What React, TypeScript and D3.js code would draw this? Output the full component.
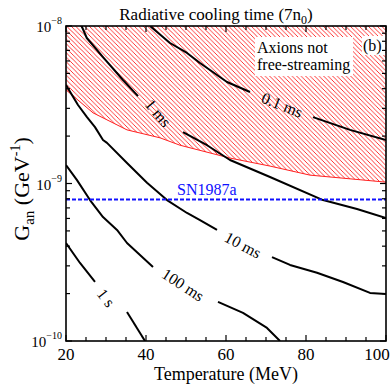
import React from 'react';
import * as d3 from 'd3';

const W = 391;
const H = 385;
const FRAME = { left: 66, right: 386, top: 26, bottom: 341 };
const FONT = "'Liberation Serif', 'Times New Roman', serif";

type P = [number, number]; // [Temperature (MeV), G_an (GeV^-1)]

const xDomain: [number, number] = [20, 100];
const yDomain: [number, number] = [1e-10, 1e-8];
const xTickLabels = [20, 40, 60, 80, 100];
const yMajorTicks = [1e-10, 1e-9, 1e-8];
const yTickExponents = ['−10', '−9', '−8'];

// contour segments (gaps where labels sit)
const c01msA: P[] = [[41, 1e-8], [46, 7.8e-9], [50.25, 6.74e-9], [53.5, 5.82e-9], [60.25, 4.41e-9], [66, 3.81e-9]];
const c01msB: P[] = [[81.75, 2.64e-9], [91, 2.19e-9], [100, 1.89e-9]];
const c1msA: P[] = [[23.9, 1e-8], [25.2, 8.39e-9], [29.25, 6.35e-9], [34.25, 4.54e-9], [38, 3.59e-9]];
const c1msB: P[] = [[49.25, 2.12e-9], [55.25, 1.75e-9], [61, 1.41e-9], [71, 1.1e-9], [84.25, 7.85e-10], [92.75, 6.89e-10], [100, 6.04e-10]];
const c10msA: P[] = [[20, 4.22e-9], [23, 3.15e-9], [25.25, 2.64e-9], [27.25, 2.28e-9], [29.25, 1.89e-9], [30.25, 1.81e-9], [35.25, 1.35e-9], [40.25, 1.01e-9], [45.25, 7.85e-10], [50.25, 6.5e-10], [53.5, 5.86e-10], [57.75, 5.07e-10]];
const c10msB: P[] = [[71.5, 3.41e-10], [76, 3.04e-10], [82.75, 2.71e-10], [89.25, 2.37e-10], [96, 2.02e-10], [100, 1.99e-10]];
const c100msA: P[] = [[20, 1.31e-9], [22.75, 1.05e-9], [26, 7.85e-10], [29.25, 6.12e-10], [32.75, 5.07e-10], [35.25, 4.19e-10], [38.5, 3.52e-10], [41.75, 2.95e-10]];
const c100msB: P[] = [[58, 1.77e-10], [64.25, 1.51e-10], [70.25, 1.21e-10], [73.5, 1e-10]];
const c1sA: P[] = [[20, 4.19e-10], [23.5, 3.13e-10], [27.25, 2.37e-10]];
const c1sB: P[] = [[35.25, 1.53e-10], [39.75, 1e-10]];
const contourSegments: P[][] = [c01msA, c01msB, c1msA, c1msB, c10msA, c10msB, c100msA, c100msB, c1sA, c1sB];

const contourLabelText = ['0.1 ms', '1 ms', '10 ms', '100 ms', '1 s'];
const contourLabelAt: P[] = [[74, 3.15e-9], [43, 2.8e-9], [64.25, 4.07e-10], [49.25, 2.27e-10], [30, 1.88e-10]];
const contourLabelAngle = [22, 50, 28, 33, 52];

// free-streaming boundary (hatched above)
const freeStreamBoundary: P[] = [[20, 3.93e-9], [26.75, 2.81e-9], [35.25, 2.19e-9], [43.5, 1.95e-9], [48.5, 1.75e-9], [61, 1.45e-9], [71, 1.29e-9], [81, 1.13e-9], [100, 1.02e-9]];

const sn1987a = 7.9e-10;

export default function App() {
  const x = d3.scaleLinear().domain(xDomain).range([FRAME.left, FRAME.right]);
  const y = d3.scaleLog().domain(yDomain).range([FRAME.bottom, FRAME.top]);

  const line = d3.line<P>().x(d => x(d[0])).y(d => y(d[1]));
  const area = d3.area<P>().x(d => x(d[0])).y0(FRAME.top).y1(d => y(d[1]));

  const xMinor = d3.range(20, 100.01, 5);
  const yMinor: number[] = [];
  for (const dec of [1e-10, 1e-9]) for (let k = 2; k <= 9; k++) yMinor.push(dec * k);

  const tickW = 1.2;
  return (
    <svg width={W} height={H} style={{ display: 'block', position: 'absolute', left: 0, top: 0 }} fontFamily={FONT}>
      <defs>
        <pattern id="hatch" patternUnits="userSpaceOnUse" width={4.5} height={4.5}>
          <path d="M-1,-1 L5.5,5.5 M-1,3.5 L1,5.5 M3.5,-1 L5.5,1" stroke="#ff2020" strokeWidth={0.9} />
        </pattern>
        <clipPath id="plot">
          <rect x={FRAME.left} y={FRAME.top} width={FRAME.right - FRAME.left} height={FRAME.bottom - FRAME.top} />
        </clipPath>
      </defs>
      <rect width={W} height={H} fill="#fff" />

      <g clipPath="url(#plot)">
        <path d={area(freeStreamBoundary) || ''} fill="url(#hatch)" />
        <path d={line(freeStreamBoundary) || ''} fill="none" stroke="#ff2020" strokeWidth={1} />
        {contourSegments.map((s, i) => (
          <path key={i} d={line(s) || ''} fill="none" stroke="#000" strokeWidth={2} strokeLinejoin="round" />
        ))}
        <line x1={FRAME.left} x2={FRAME.right} y1={y(sn1987a)} y2={y(sn1987a)} stroke="#1010ff" strokeWidth={2} strokeDasharray="4,2" />
      </g>

      {contourLabelText.map((t, i) => {
        const px = x(contourLabelAt[i][0]);
        const py = y(contourLabelAt[i][1]);
        return (
          <text key={t} x={px} y={py} fontSize={16} textAnchor="middle" dominantBaseline="central"
            transform={`rotate(${contourLabelAngle[i]},${px},${py})`}>{t}</text>
        );
      })}

      <text x={177} y={y(sn1987a) - 5} fontSize={16} fill="#1010ff">SN1987a</text>

      <rect x={255} y={37} width={98} height={39} fill="#fff" />
      <text x={257} y={53} fontSize={16}>Axions not</text>
      <text x={257} y={70} fontSize={16}>free-streaming</text>
      <rect x={362} y={36} width={23} height={19} fill="#fff" />
      <text x={363} y={51} fontSize={16}>(b)</text>

      {/* frame */}
      <rect x={FRAME.left} y={FRAME.top} width={FRAME.right - FRAME.left} height={FRAME.bottom - FRAME.top} fill="none" stroke="#000" strokeWidth={1.6} />

      {/* x ticks */}
      {xMinor.map(v => {
        const major = xTickLabels.includes(v);
        const len = major ? 6 : 4;
        return (
          <g key={v}>
            <line x1={x(v)} x2={x(v)} y1={FRAME.bottom} y2={FRAME.bottom - len} stroke="#000" strokeWidth={tickW} />
            <line x1={x(v)} x2={x(v)} y1={FRAME.top} y2={FRAME.top + len} stroke="#000" strokeWidth={tickW} />
          </g>
        );
      })}
      {xTickLabels.map(v => (
        <text key={v} x={Math.min(x(v), W - 14)} y={FRAME.bottom + 19} fontSize={17} textAnchor="middle">{v}</text>
      ))}

      {/* y ticks */}
      {yMajorTicks.map(v => (
        <g key={v}>
          <line x1={FRAME.left} x2={FRAME.left + 6} y1={y(v)} y2={y(v)} stroke="#000" strokeWidth={tickW} />
          <line x1={FRAME.right} x2={FRAME.right - 6} y1={y(v)} y2={y(v)} stroke="#000" strokeWidth={tickW} />
        </g>
      ))}
      {yMinor.map(v => (
        <g key={v}>
          <line x1={FRAME.left} x2={FRAME.left + 4} y1={y(v)} y2={y(v)} stroke="#000" strokeWidth={tickW} />
          <line x1={FRAME.right} x2={FRAME.right - 4} y1={y(v)} y2={y(v)} stroke="#000" strokeWidth={tickW} />
        </g>
      ))}
      {yMajorTicks.map((v, i) => (
        <text key={v} x={62} y={y(v) + 6} fontSize={15} textAnchor="end">
          10<tspan fontSize={10} dy={-8}>{yTickExponents[i]}</tspan>
        </text>
      ))}

      {/* titles */}
      <text x={216} y={20} fontSize={17} textAnchor="middle">
        Radiative cooling time (7n<tspan fontSize={12} dy={4}>0</tspan><tspan dy={-4}>)</tspan>
      </text>
      <text x={226} y={380} fontSize={18} textAnchor="middle">Temperature (MeV)</text>
      <text transform="translate(29,189) rotate(-90)" fontSize={22} textAnchor="middle">
        G<tspan fontSize={15} dy={5}>an</tspan><tspan dy={-5}> (GeV</tspan><tspan fontSize={14} dy={-9}>-1</tspan><tspan dy={9}>)</tspan>
      </text>
    </svg>
  );
}
